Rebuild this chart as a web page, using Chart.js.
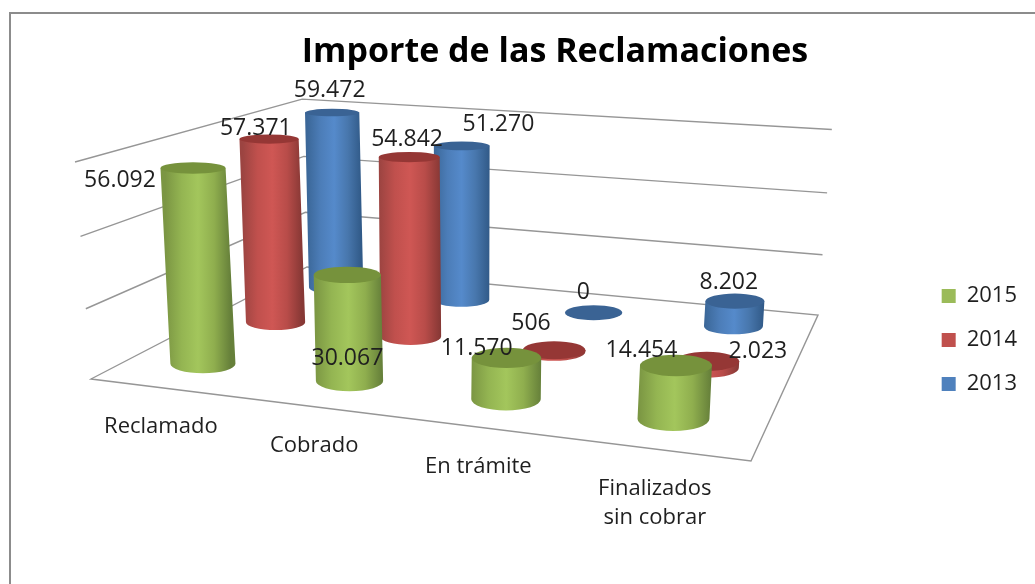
<!DOCTYPE html>
<html><head><meta charset="utf-8">
<style>html,body{margin:0;padding:0;background:#fff}canvas{display:block}</style>
<script src="https://cdn.jsdelivr.net/npm/chart.js@4/dist/chart.umd.js"></script>
</head><body><canvas id="c" width="1035" height="584"></canvas>
<script>
const categories = [['Reclamado'], ['Cobrado'], ['En trámite'], ['Finalizados', 'sin cobrar']];
const values2015 = [56092, 30067, 11570, 14454];
const values2014 = [57371, 54842, 506, 2023];
const values2013 = [59472, 51270, 0, 8202];
const yTicks = [0, 20000, 40000, 60000];
const chartTitle = 'Importe de las Reclamaciones';

const FONT = '"Open Sans", sans-serif';
const INK = '#1f1f1f';
const GRID = '#969696';
const SKIN = [
  {ramp:['#7b9643','#94b552','#a3c65c','#8fae4e','#66803a'], cap:'#76923c', solid:'#9bbb59'},
  {ramp:['#9c4441','#c0504d','#cf5754','#b84c49','#873835'], cap:'#953735', solid:'#c0504d'},
  {ramp:['#3b6798','#4c7db8','#558acb','#4877ad','#315a88'], cap:'#3a6394', solid:'#4f81bd'}
];
// Label offsets from the projected top of each cylinder, [dx, dy] per series per category
const LABEL_OFFSET = [
  [[-76, 12], [-3, 83], [-33, -10], [-38, -15]],
  [[-16, -11], [-5, -18], [-26, -27], [48, -10]],
  [[-5, -22], [34, -22], [-13, -20], [-9, -19]]
];

// Scene camera: four floor corners, and the vertical vanishing point
const FLOOR = [[91, 379], [751, 461], [818, 315], [307, 267]];
const VP = [450, 5250], KZ = -0.04265;
const BAR_RX = 33.7, BAR_RV = 0.07, BAR_SHIFT_U = -0.005;

const H = (() => {
  const [p0, p1, p2, p3] = FLOOR;
  const dx1 = p1[0]-p2[0], dx2 = p3[0]-p2[0], sx = p0[0]-p1[0]+p2[0]-p3[0];
  const dy1 = p1[1]-p2[1], dy2 = p3[1]-p2[1], sy = p0[1]-p1[1]+p2[1]-p3[1];
  const det = dx1*dy2 - dx2*dy1;
  const g = (sx*dy2 - dx2*sy)/det, h = (dx1*sy - sx*dy1)/det;
  return {a:p1[0]-p0[0]+g*p1[0], b:p3[0]-p0[0]+h*p3[0], c:p0[0],
          d:p1[1]-p0[1]+g*p1[1], e:p3[1]-p0[1]+h*p3[1], f:p0[1], g, h};
})();
const depthW = (u, v, z) => H.g*u + H.h*v + 1 + z*KZ;
function project(u, v, z) {
  const w = depthW(u, v, z);
  return [(H.a*u + H.b*v + H.c + z*KZ*VP[0])/w, (H.d*u + H.e*v + H.f + z*KZ*VP[1])/w];
}
const unitX = (chart, px) => (px - chart.scales.x.left)/chart.scales.x.width;
const unitY = (chart, val) => { const s = chart.scales.y; return (s.bottom - s.getPixelForValue(val))/s.height; };
const depthOf = d => (2*d + 1)/6;
const fmt = n => String(n).replace(/\B(?=(\d{3})+(?!\d))/g, '.');

function drawCylinder(ctx, u0, v, z, skin) {
  const u = u0 + BAR_SHIFT_U;
  const rx = BAR_RX/depthW(u, v, 0);
  const [B, T] = [0, z].map(zz => {
    const c = project(u, v, zz);
    const f = project(u, v-BAR_RV, zz), b = project(u, v+BAR_RV, zz);
    return {x:c[0], y:c[1], ry:Math.abs(f[1]-b[1])/2};
  });
  if (z > 0.002) {
    const cx = (B.x+T.x)/2;
    const g = ctx.createLinearGradient(cx - rx, 0, cx + rx, 0);
    skin.ramp.forEach((col, i) => g.addColorStop(i/(skin.ramp.length-1), col));
    ctx.beginPath();
    ctx.ellipse(B.x, B.y, rx, B.ry, 0, Math.PI, 0, true);
    ctx.lineTo(T.x+rx, T.y);
    ctx.lineTo(T.x-rx, T.y);
    ctx.closePath();
    ctx.fillStyle = g; ctx.fill();
  }
  ctx.beginPath();
  ctx.ellipse(T.x, T.y, rx, T.ry, 0, 0, Math.PI*2);
  ctx.fillStyle = skin.cap; ctx.fill();
}

const scenePlugin = {
  id: 'scene',
  beforeDraw(chart) {
    const ctx = chart.ctx;
    ctx.save();
    ctx.fillStyle = '#fff'; ctx.fillRect(0, 0, chart.width, chart.height);
    ctx.strokeStyle = '#8c8c8c'; ctx.lineWidth = 2;
    ctx.beginPath(); ctx.moveTo(10, chart.height); ctx.lineTo(10, 13); ctx.lineTo(chart.width, 13); ctx.stroke();
    ctx.restore();
  },
  beforeDatasetsDraw(chart) {
    const ctx = chart.ctx;
    ctx.save();
    ctx.strokeStyle = GRID; ctx.lineWidth = 1.4;
    chart.scales.y.ticks.forEach(t => {
      const z = unitY(chart, t.value);
      const pts = [project(0,0,z), project(0,1,z), project(1,1,z)];
      ctx.beginPath();
      pts.forEach((p,i) => i ? ctx.lineTo(p[0],p[1]) : ctx.moveTo(p[0],p[1]));
      if (z === 0) { const q = project(1,0,0); ctx.lineTo(q[0],q[1]); ctx.closePath(); }
      ctx.stroke();
    });
    ctx.restore();
  },
  beforeDatasetDraw(chart, args) {
    const ctx = chart.ctx;
    ctx.save();
    args.meta.data.forEach(el => {
      const z = (el.base - el.y)/chart.scales.y.height;
      drawCylinder(ctx, unitX(chart, el.x), depthOf(args.index), z, SKIN[args.index]);
    });
    ctx.restore();
    return false;
  },
  afterDatasetsDraw(chart) {
    const ctx = chart.ctx;
    ctx.save();
    ctx.fillStyle = INK;
    ctx.textAlign = 'center'; ctx.textBaseline = 'middle';
    ctx.font = '23px ' + FONT;
    chart.data.datasets.forEach((ds, d) => {
      chart.getDatasetMeta(d).data.forEach((el, i) => {
        const z = (el.base - el.y)/chart.scales.y.height;
        const p = project(unitX(chart, el.x), depthOf(d), z);
        const o = LABEL_OFFSET[d][i];
        ctx.fillText(fmt(ds.data[i]), p[0]+o[0], p[1]+o[1]);
      });
    });
    ctx.font = '22px ' + FONT;
    const xs = chart.scales.x;
    chart.data.labels.forEach((lab, i) => {
      const p = project(unitX(chart, xs.getPixelForValue(i)), 0, 0);
      lab.forEach((line, k) => ctx.fillText(line, p[0]-3, p[1]+39+k*29));
    });
    ctx.restore();
  }
};

new Chart(document.getElementById('c'), {
  type: 'bar',
  data: {
    labels: categories,
    datasets: [
      {label:'2015', data:values2015, backgroundColor:SKIN[0].solid, grouped:false},
      {label:'2014', data:values2014, backgroundColor:SKIN[1].solid, grouped:false},
      {label:'2013', data:values2013, backgroundColor:SKIN[2].solid, grouped:false}
    ]
  },
  options: {
    responsive: false, animation: false,
    layout: {padding: {left: 83, right: 8, top: 32, bottom: -64}},
    scales: {
      x: {display: false},
      y: {display: false, min: yTicks[0], max: yTicks[yTicks.length-1], afterBuildTicks(s){ s.ticks = yTicks.map(value => ({value})); }}
    },
    plugins: {
      title: {display: true, text: chartTitle, color: '#000', padding: {top: 0, bottom: 0},
              font: {family: FONT, size: 34, weight: 'bold'}},
      legend: {display: true, position: 'right',
               labels: {boxWidth: 14, boxHeight: 14, padding: 22, color: INK, font: {family: FONT, size: 22}}},
      tooltip: {enabled: false}
    }
  },
  plugins: [scenePlugin]
});
</script></body></html>
